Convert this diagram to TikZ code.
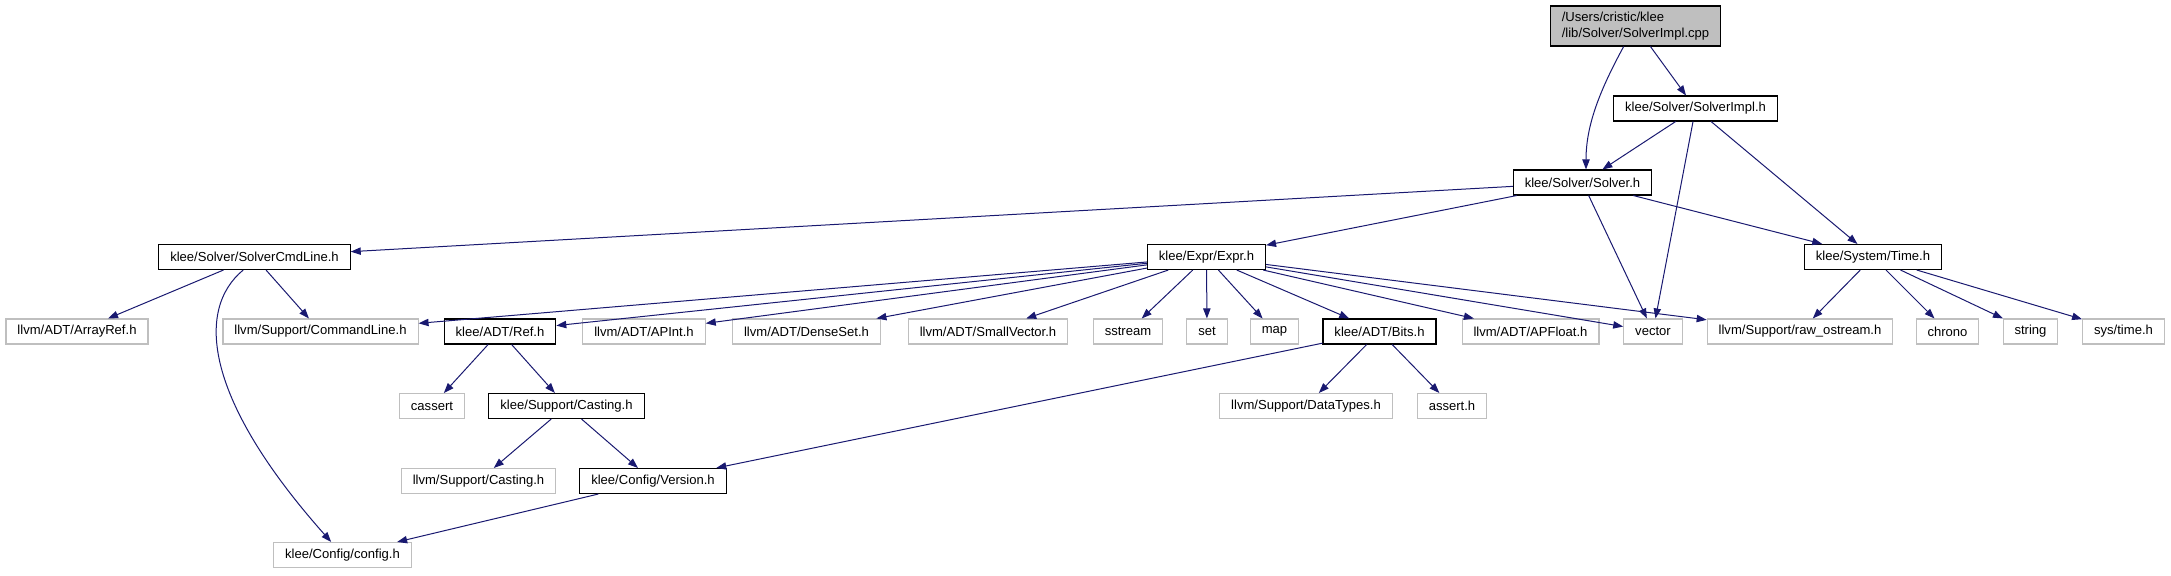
\documentclass[tikz,border=0pt]{standalone}
\usepackage{fontspec}
\setmainfont{Liberation Sans}
\usetikzlibrary{arrows.meta}

\definecolor{edgeblue}{HTML}{191970}
\definecolor{extgray}{HTML}{BFBFBF}

\tikzset{
    file/.style={draw=black, line width=0.8pt, inner xsep=8.6pt, inner ysep=0pt,
        minimum height=18.75pt, font=\fontsize{9.8}{12}\selectfont},
    extfile/.style={file, draw=extgray},
    edge/.style={draw=edgeblue, line width=0.75pt, -{Triangle[length=7.5pt,width=5.5pt]}}
}

\begin{document}
\begin{tikzpicture}[x=0.75pt, y=-0.75pt]
    \useasboundingbox (0,0) rectangle (2171,575);

    % Place the top files
    \node[file, fill=extgray, align=left, minimum height=30pt] (root) at (1635.5,26)
        {/Users/cristic/klee\\/lib/Solver/SolverImpl.cpp};
    \node[file] (solverimpl) at (1695.5,108.5) {klee/Solver/SolverImpl.h};
    \node[file] (solver) at (1582.5,182.5) {klee/Solver/Solver.h};

    % Place the second level headers
    \node[file] (cmdline) at (254.5,257) {klee/Solver/SolverCmdLine.h};
    \node[file] (expr) at (1206.5,257) {klee/Expr/Expr.h};
    \node[file] (time) at (1873,257) {klee/System/Time.h};

    % Place the row of included headers
    \node[extfile] (arrayref) at (77,331.5) {llvm/ADT/ArrayRef.h};
    \node[extfile] (llvmcmd) at (320.5,331.5) {llvm/Support/CommandLine.h};
    \node[file] (ref) at (500,331.5) {klee/ADT/Ref.h};
    \node[extfile] (apint) at (644,331.5) {llvm/ADT/APInt.h};
    \node[extfile] (denseset) at (806.5,331.5) {llvm/ADT/DenseSet.h};
    \node[extfile] (smallvec) at (988,331.5) {llvm/ADT/SmallVector.h};
    \node[extfile] (sstream) at (1128,331.5) {sstream};
    \node[extfile] (set) at (1207,331.5) {set};
    \node[extfile] (map) at (1274.5,331.5) {map};
    \node[file] (bits) at (1379.5,331.5) {klee/ADT/Bits.h};
    \node[extfile] (apfloat) at (1530.5,331.5) {llvm/ADT/APFloat.h};
    \node[extfile] (vector) at (1653,331.5) {vector};
    \node[extfile] (rawos) at (1800,331.5) {llvm/Support/raw\_ostream.h};
    \node[extfile] (chrono) at (1947.5,331.5) {chrono};
    \node[extfile] (string) at (2030.5,331.5) {string};
    \node[extfile] (systime) at (2123.5,331.5) {sys/time.h};

    % Place the lower headers
    \node[extfile] (cassert) at (432,406) {cassert};
    \node[file] (casting) at (566.5,406) {klee/Support/Casting.h};
    \node[extfile] (datatypes) at (1306,406) {llvm/Support/DataTypes.h};
    \node[extfile] (asserth) at (1452,406) {assert.h};
    \node[extfile] (llvmcasting) at (478.5,481) {llvm/Support/Casting.h};
    \node[file] (version) at (653,481) {klee/Config/Version.h};
    \node[extfile] (config) at (342.5,555) {klee/Config/config.h};

    % Draw the includes of the top files
    \draw[edge] (root.-120) .. controls (1600,90) and (1586,125) .. (solver.75);
    \draw[edge] (root) -- (solverimpl);
    \draw[edge] (solverimpl) -- (solver);
    \draw[edge] (solverimpl) -- (vector);
    \draw[edge] (solverimpl) -- (time);
    \draw[edge] (solver) -- (cmdline);
    \draw[edge] (solver) -- (expr);
    \draw[edge] (solver) -- (vector);
    \draw[edge] (solver) -- (time);

    % Draw the includes of the second level
    \draw[edge] (cmdline) -- (arrayref);
    \draw[edge] (cmdline) -- (llvmcmd);
    \draw[edge] (cmdline.-131) .. controls (195,310) and (205,400) .. (config.131);
    \draw[edge] (expr) -- (llvmcmd);
    \draw[edge] (expr) -- (ref);
    \draw[edge] (expr) -- (apint);
    \draw[edge] (expr) -- (denseset);
    \draw[edge] (expr) -- (smallvec);
    \draw[edge] (expr) -- (sstream);
    \draw[edge] (expr) -- (set);
    \draw[edge] (expr) -- (map);
    \draw[edge] (expr) -- (bits);
    \draw[edge] (expr) -- (apfloat);
    \draw[edge] (expr) -- (vector);
    \draw[edge] (expr) -- (rawos);
    \draw[edge] (time) -- (rawos);
    \draw[edge] (time) -- (chrono);
    \draw[edge] (time) -- (string);
    \draw[edge] (time) -- (systime);

    % Draw the lower includes
    \draw[edge] (ref) -- (cassert);
    \draw[edge] (ref) -- (casting);
    \draw[edge] (bits) -- (version);
    \draw[edge] (bits) -- (datatypes);
    \draw[edge] (bits) -- (asserth);
    \draw[edge] (casting) -- (llvmcasting);
    \draw[edge] (casting) -- (version);
    \draw[edge] (version) -- (config);

\end{tikzpicture}
\end{document}
